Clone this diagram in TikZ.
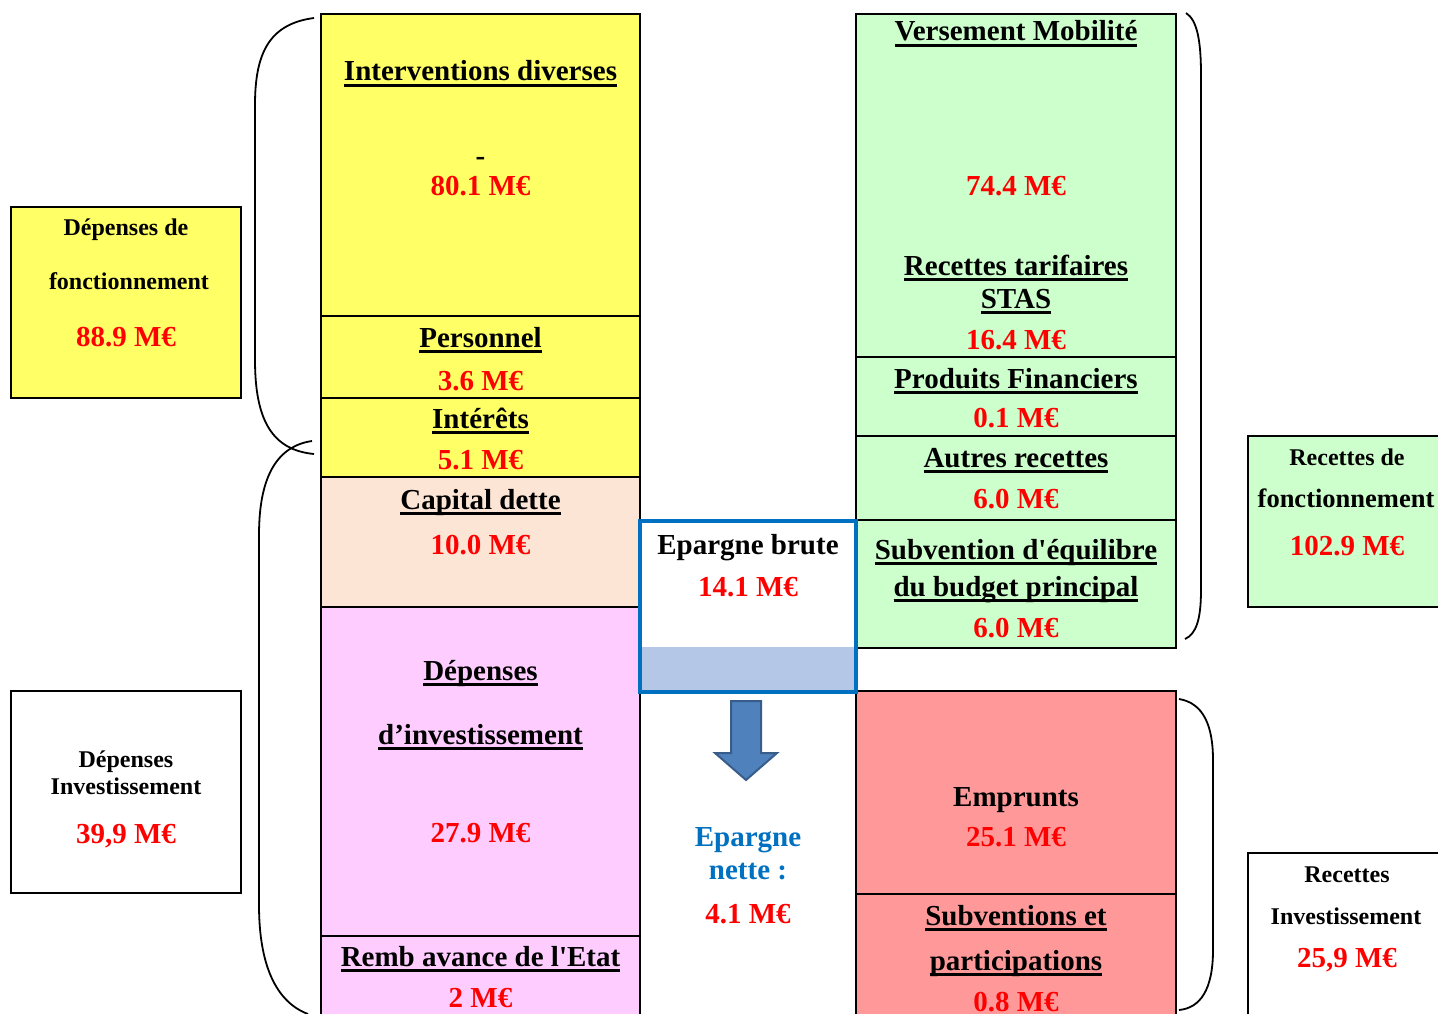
\documentclass[tikz,border=0pt]{standalone}
\usepackage{fontspec}
\setmainfont{Liberation Serif}[Ligatures=TeXOff]
\definecolor{cyel}{HTML}{FFFF66}
\definecolor{cpeach}{HTML}{FDE5D6}
\definecolor{cpink}{HTML}{FFCCFF}
\definecolor{cgreen}{HTML}{CCFFCC}
\definecolor{csalmon}{HTML}{FF9999}
\definecolor{cblue}{HTML}{0070C0}
\definecolor{clblue}{HTML}{B4C7E7}
\definecolor{arrfill}{HTML}{4F81BD}
\definecolor{arrdraw}{HTML}{385D8A}
\definecolor{cred}{HTML}{FF0000}
\newcommand\myul[1]{\setbox0=\hbox{#1}\rlap{\vrule width\wd0 height -3pt depth 6pt}\box0}
\tikzset{
  box/.style={draw=black, line width=2.2pt},
  brk/.style={draw=black, line width=1.8pt},
  lbl/.style={anchor=base, inner sep=0pt, font=\fontsize{29}{33}\selectfont\bfseries},
  val/.style={lbl, text=cred},
  sml/.style={anchor=base, inner sep=0pt, font=\fontsize{24}{28}\selectfont\bfseries},
}
\begin{document}
\begin{tikzpicture}[x=1pt,y=-1pt]
\useasboundingbox (0,0) rectangle (1438,1014);
\fill[white] (0,0) rectangle (1438,1014);
% left column
\fill[cyel] (321,14) rectangle (640,477);
\fill[cpeach] (321,477) rectangle (640,607);
\fill[cpink] (321,607) rectangle (640,1030);
\draw[box] (321,1030) -- (321,14) -- (640,14) -- (640,1030);
\draw[box] (321,316) -- (640,316);
\draw[box] (321,398) -- (640,398);
\draw[box] (321,477) -- (640,477);
\draw[box] (321,607) -- (640,607);
\draw[box] (321,936) -- (640,936);
% right column
\fill[cgreen] (856,14) rectangle (1176,648);
\draw[box] (856,14) rectangle (1176,648);
\draw[box] (856,357) -- (1176,357);
\draw[box] (856,436) -- (1176,436);
\draw[box] (856,520) -- (1176,520);
\fill[csalmon] (856,691) rectangle (1176,1030);
\draw[box] (856,1030) -- (856,691) -- (1176,691) -- (1176,1030);
\draw[box] (856,894) -- (1176,894);
% epargne brute box
\fill[white] (640,521) rectangle (856,691);
\fill[clblue] (640,647) rectangle (856,691);
\draw[draw=cblue, line width=4pt] (640,521) rectangle (856,691.5);
% arrow
\draw[fill=arrfill, draw=arrdraw, line width=2pt, line join=miter]
  (731,701) -- (761,701) -- (761,753) -- (777,753) -- (746,780) -- (715,753) -- (731,753) -- cycle;
% side boxes
\draw[box, fill=cyel] (11,207) rectangle (241,398);
\draw[box, fill=white] (11,691) rectangle (241,893);
\draw[box, fill=cgreen] (1248,436) rectangle (1450,607);
\draw[box, fill=white] (1248,853) rectangle (1450,1030);
% brackets
\draw[brk] (314,18) .. controls (268,24) and (255,55) .. (255,105) -- (255,360) .. controls (255,420) and (272,450) .. (314,454);
\draw[brk] (312,441) .. controls (278,446) and (259,475) .. (259,535) -- (259,905) .. controls (259,965) and (276,1002) .. (308,1014);
\draw[brk] (1186,13) .. controls (1197,20) and (1201,40) .. (1201,75) -- (1201,590) .. controls (1201,620) and (1196,634) .. (1185,639);
\draw[brk] (1179,699) .. controls (1203,703) and (1213,725) .. (1213,760) -- (1213,950) .. controls (1213,990) and (1200,1008) .. (1179,1010);
% left column texts
\node[lbl] (interv) at (480.5,81) {\myul{Interventions diverses}};
\node[lbl] (dash) at (480.5,166) {-};
\node[val] (v801) at (480.5,196) {80.1 M€};
\node[lbl] (pers) at (480.5,347) {\myul{Personnel}};
\node[val] (v36) at (480.5,390) {3.6 M€};
\node[lbl] (inter) at (480.5,428) {\myul{Intérêts}};
\node[val] (v51) at (480.5,469) {5.1 M€};
\node[lbl] (capd) at (480.5,509) {\myul{Capital dette}};
\node[val] (v100) at (480.5,554) {10.0 M€};
\node[lbl] (dep) at (480.5,680) {\myul{Dépenses}};
\node[lbl] (dinv) at (480.5,744) {\myul{d’investissement}};
\node[val] (v279) at (480.5,842) {27.9 M€};
\node[lbl] (remb) at (480.5,966) {\myul{Remb avance de l'Etat}};
\node[val] (v2) at (480.5,1007) {2 M€};
% right column texts
\node[lbl] (vers) at (1016,41) {\myul{Versement Mobilité}};
\node[val] (v744) at (1016,196) {74.4 M€};
\node[lbl] (rt1) at (1016,275) {\myul{Recettes tarifaires}};
\node[lbl] (rt2) at (1016,308) {\myul{STAS}};
\node[val] (v164) at (1016,349) {16.4 M€};
\node[lbl] (prod) at (1016,388) {\myul{Produits Financiers}};
\node[val] (v01) at (1016,427) {0.1 M€};
\node[lbl] (autres) at (1016,467) {\myul{Autres recettes}};
\node[val] (v60a) at (1016,508) {6.0 M€};
\node[lbl] (sub1) at (1016,559) {\myul{Subvention d'équilibre}};
\node[lbl] (sub2) at (1016,596) {\myul{du budget principal}};
\node[val] (v60b) at (1016,637) {6.0 M€};
\node[lbl] (empr) at (1016,806) {Emprunts};
\node[val] (v251) at (1016,846) {25.1 M€};
\node[lbl] (sp1) at (1016,925) {\myul{Subventions et}};
\node[lbl] (sp2) at (1016,970) {\myul{participations}};
\node[val] (v08) at (1016,1011) {0.8 M€};
% middle texts
\node[lbl] (eb) at (748,554) {Epargne brute};
\node[val] (v141) at (748,596) {14.1 M€};
\node[lbl, text=cblue] (en1) at (748,846) {Epargne};
\node[lbl, text=cblue] (en2) at (748,879) {nette :};
\node[val] (v41) at (748,923) {4.1 M€};
% side box texts
\node[sml] (df1) at (126,235) {Dépenses de};
\node[sml] (df2) at (129,289) {fonctionnement};
\node[val] (df3) at (126,346) {88.9 M€};
\node[sml] (di1) at (126,767) {Dépenses};
\node[sml] (di2) at (126,794) {Investissement};
\node[val] (di3) at (126,843) {39,9 M€};
\node[sml] (rf1) at (1347,465) {Recettes de};
\node[sml, font=\fontsize{26.5}{30}\selectfont\bfseries] (rf2) at (1346,507) {fonctionnement};
\node[val] (rf3) at (1347,555) {102.9 M€};
\node[sml] (ri1) at (1347,882) {Recettes};
\node[sml] (ri2) at (1346,924) {Investissement};
\node[val] (ri3) at (1347,967) {25,9 M€};
\end{tikzpicture}
\end{document}
